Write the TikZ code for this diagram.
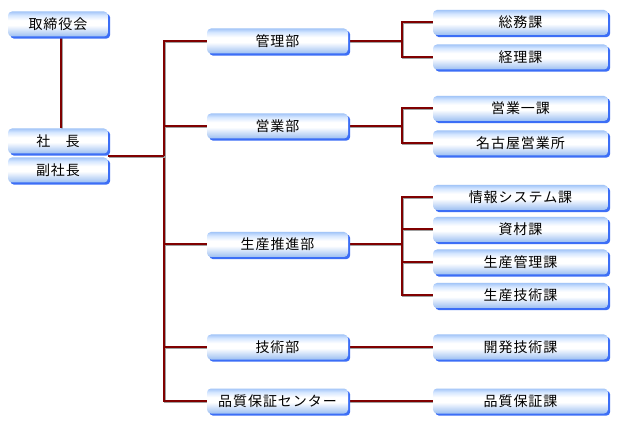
\documentclass[tikz,border=0pt]{standalone}
\usepackage{fontspec}
\setmainfont[LetterSpace=7]{Noto Sans CJK JP}
\usetikzlibrary{shadows}
\definecolor{lred}{HTML}{800000}
\definecolor{lgrey}{HTML}{A0A0A0}
\definecolor{sblue}{HTML}{3C6EF6}
\definecolor{btop}{HTML}{A4C6F8}
\definecolor{bbot}{HTML}{9CBFF2}
\definecolor{bmid}{HTML}{D6E7FF}
\pgfdeclareverticalshading{boxshade}{100bp}{color(0bp)=(bbot); color(25bp)=(bbot); color(47.5bp)=(white); color(57.5bp)=(white); color(67.5bp)=(bmid); color(75bp)=(btop); color(100bp)=(btop)}
\pgfdeclarelayer{bg}
\pgfsetlayers{bg,main}
\tikzset{
  orgbox/.style={rectangle, rounded corners=4pt, shading=boxshade,
    general shadow={fill=sblue, shadow xshift=2.2pt, shadow yshift=-2.2pt},
    minimum height=25pt, inner sep=0pt, text height=12.3pt, text depth=1.7pt,
    font=\fontsize{14pt}{15pt}\selectfont},
  topbox/.style={orgbox, minimum width=100pt},
  deptbox/.style={orgbox, minimum width=141pt},
  secbox/.style={orgbox, minimum width=175pt},
  conn/.style={draw=lred, line width=2pt,
    preaction={draw=lgrey, line width=2pt, transform canvas={xshift=0.9pt, yshift=-0.9pt}}}
}
\begin{document}
\begin{tikzpicture}[x=1pt,y=-1pt]
\useasboundingbox (0,0) rectangle (618,427);
% left column
\node[topbox] (board) at (58,24) {取締役会};
\node[topbox] (pres) at (58,141) {社\hspace{1.1em}長};
\node[topbox] (vp) at (58,170) {副社長};
% departments
\node[deptbox] (kanri) at (277.5,41) {管理部};
\node[deptbox] (eigyo) at (277.5,126) {営業部};
\node[deptbox] (suishin) at (277.5,244.5) {生産推進部};
\node[deptbox] (gijutsu) at (277.5,347) {技術部};
\node[deptbox] (qa) at (277.5,401) {品質保証センター};
% sections
\node[secbox] (soumu) at (520.5,22.5) {総務課};
\node[secbox] (keiri) at (520.5,57) {経理課};
\node[secbox] (eig1) at (520.5,108.5) {営業一課};
\node[secbox] (nagoya) at (520.5,143) {名古屋営業所};
\node[secbox] (joho) at (520.5,197.5) {情報システム課};
\node[secbox] (shizai) at (520.5,229.5) {資材課};
\node[secbox] (seikan) at (520.5,262) {生産管理課};
\node[secbox] (seigi) at (520.5,295.5) {生産技術課};
\node[secbox] (kaihatsu) at (520.5,347) {開発技術課};
\node[secbox] (qakai) at (520.5,401) {品質保証課};
\coordinate (pj) at (108,156);
\coordinate (tx) at (164,0);
\coordinate (sx) at (402,0);
\begin{pgfonlayer}{bg}
\fill[white] (0,0) rectangle (618,427);
\draw[conn] ([xshift=3pt]board.south) -- ([xshift=3pt]pres.north);
\draw[conn] (kanri.west) -- (kanri.west -| tx) -- (qa.west -| tx) -- (qa.west);
\draw[conn] (pj) -- (pj -| tx);
\draw[conn] (eigyo.west) -- (eigyo.west -| tx);
\draw[conn] (suishin.west) -- (suishin.west -| tx);
\draw[conn] (gijutsu.west) -- (gijutsu.west -| tx);
% kanri
\draw[conn] (kanri.east) -- (kanri.east -| sx);
\draw[conn] (soumu.west) -- (soumu.west -| sx) -- (keiri.west -| sx) -- (keiri.west);
% eigyo
\draw[conn] (eigyo.east) -- (eigyo.east -| sx);
\draw[conn] (eig1.west) -- (eig1.west -| sx) -- (nagoya.west -| sx) -- (nagoya.west);
% suishin
\draw[conn] (suishin.east) -- (suishin.east -| sx);
\draw[conn] (joho.west) -- (joho.west -| sx) -- (seigi.west -| sx) -- (seigi.west);
\draw[conn] (shizai.west) -- (shizai.west -| sx);
\draw[conn] (seikan.west) -- (seikan.west -| sx);
% single
\draw[conn] (gijutsu.east) -- (kaihatsu.west);
\draw[conn] (qa.east) -- (qakai.west);
\end{pgfonlayer}
\end{tikzpicture}
\end{document}
